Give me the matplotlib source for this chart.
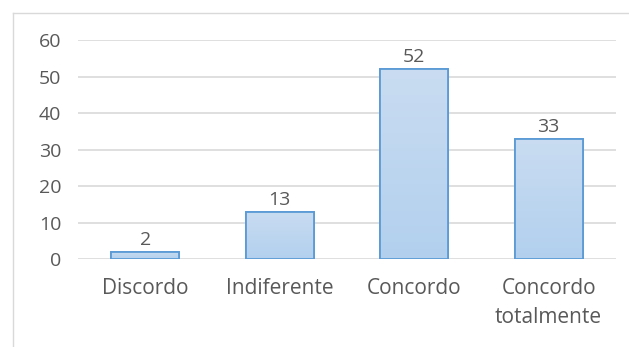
import numpy as np
import matplotlib.pyplot as plt
from matplotlib.lines import Line2D
from matplotlib.colors import LinearSegmentedColormap

categorias = ['Discordo', 'Indiferente', 'Concordo', 'Concordo\ntotalmente']
valores = [2, 13, 52, 33]
y_ticks = [0, 10, 20, 30, 40, 50, 60]

plt.rcParams['font.family'] = ['Open Sans', 'DejaVu Sans']
cinza = '#595959'

fig = plt.figure(figsize=(6.29, 3.47), dpi=100)
ax = fig.add_axes([0.124, 0.2536, 0.855, 0.6311])

x = np.arange(len(categorias))
barras = ax.bar(x, valores, width=0.505, color='#bcd5ee', edgecolor='#5b9bd5',
                linewidth=1.3, zorder=3)

# degradê dentro de cada barra
grad = np.linspace(0, 1, 100).reshape(-1, 1)
cmap = LinearSegmentedColormap.from_list('g', ['#b2d0ee', '#c9dcf1'])
for b in barras:
    x0, y0 = b.get_x(), b.get_y()
    w, h = b.get_width(), b.get_height()
    im = ax.imshow(grad, cmap=cmap, aspect='auto', origin='lower',
                   extent=(x0, x0 + w, y0, y0 + h), zorder=3.5)
    im.set_clip_path(b)
    b2 = plt.Rectangle((x0, y0), w, h, fill=False, edgecolor='#5b9bd5',
                       linewidth=1.3, zorder=4)
    ax.add_patch(b2)

for xi, v in zip(x, valores):
    ax.annotate(str(v), (xi, v), xytext=(0, 2), textcoords='offset points',
                ha='center', va='bottom', fontsize=14, color=cinza)

ax.set_xlim(-0.5, len(categorias) - 0.5)
ax.set_ylim(0, 60)
ax.set_yticks(y_ticks)
ax.set_xticks(x)
ax.set_xticklabels(categorias, linespacing=1.45, fontsize=15)
ax.tick_params(axis='both', length=0, colors=cinza)
ax.tick_params(axis='y', labelsize=14, pad=12)
ax.tick_params(axis='x', pad=14)
for s in ax.spines.values():
    s.set_visible(False)
ax.grid(axis='y', color='#d9d9d9', linewidth=1.2, zorder=0)
ax.set_axisbelow(True)

# borda da área do gráfico
fig.add_artist(Line2D([13 / 629, 1], [1 - 13 / 347, 1 - 13 / 347],
                      color='#d9d9d9', linewidth=1, transform=fig.transFigure))
fig.add_artist(Line2D([13 / 629, 13 / 629], [0, 1 - 13 / 347],
                      color='#d9d9d9', linewidth=1, transform=fig.transFigure))

fig.savefig('out.png', dpi=100)
